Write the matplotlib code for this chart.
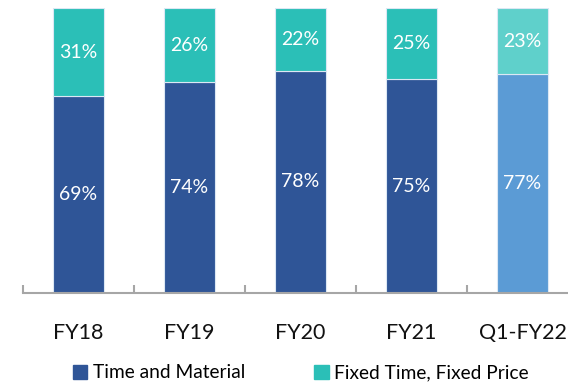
import matplotlib.pyplot as plt
from matplotlib.patches import Patch

# data
categories = ['FY18', 'FY19', 'FY20', 'FY21', 'Q1-FY22']
time_material = [69, 74, 78, 75, 77]
fixed_price = [31, 26, 22, 25, 23]

# last bar (current quarter) is drawn in lighter shades
tm_colors = ['#2F5597', '#2F5597', '#2F5597', '#2F5597', '#5B9BD5']
fp_colors = ['#2BBFB7', '#2BBFB7', '#2BBFB7', '#2BBFB7', '#5FD0CB']

plt.rcParams['font.family'] = ['Lato', 'DejaVu Sans']

fig = plt.figure(figsize=(5.68, 3.83), dpi=100)
ax = fig.add_axes([23 / 568, 90.3 / 383, 555 / 568, 284.4 / 383])

x = range(len(categories))
bars1 = ax.bar(x, time_material, width=0.455, color=tm_colors, edgecolor='#DCE8F4', linewidth=0.8)
bars2 = ax.bar(x, fixed_price, width=0.455, bottom=time_material, color=fp_colors, edgecolor='#DCE8F4', linewidth=0.8)

# white percentage labels centred in each segment
for i in x:
    ax.text(i, time_material[i] / 2, str(time_material[i]) + '%', ha='center', va='center',
            color='white', fontsize=14)
    ax.text(i, time_material[i] + fixed_price[i] / 2, str(fixed_price[i]) + '%', ha='center', va='center',
            color='white', fontsize=14)

ax.set_xlim(-0.5, 4.5)
ax.set_ylim(0, 100)
for s in ['top', 'right', 'left']:
    ax.spines[s].set_visible(False)
ax.spines['bottom'].set_color('#A6A6A6')
ax.spines['bottom'].set_linewidth(1.5)
ax.set_yticks([])

ax.set_xticks(list(x))
ax.set_xticklabels(categories, fontsize=15.5, color='#111111')
ax.tick_params(axis='x', which='major', length=0, pad=22)
ax.set_xticks([-0.5, 0.5, 1.5, 2.5, 3.5], minor=True)
ax.tick_params(axis='x', which='minor', direction='in', length=6, width=1.5, color='#A6A6A6')

handles = [Patch(color='#2F5597', label='Time and Material'),
           Patch(color='#2BBFB7', label='Fixed Time, Fixed Price')]
fig.legend(handles=handles, loc='center', bbox_to_anchor=(0.53, 10 / 383), ncol=2, frameon=False,
           fontsize=13.8, handlelength=0.75, handleheight=0.75, handletextpad=0.3, columnspacing=3.6)

fig.savefig('out.png', dpi=100)
